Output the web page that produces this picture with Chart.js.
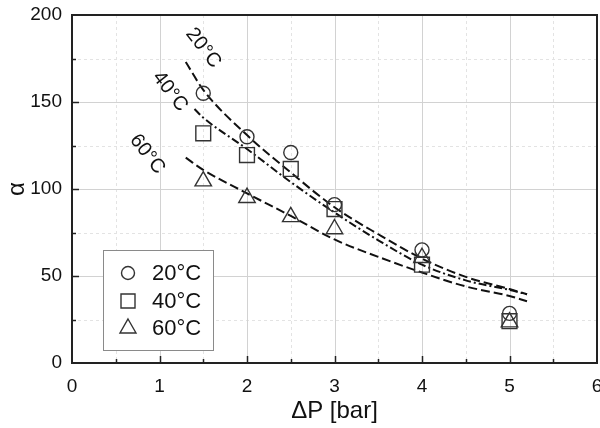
<!DOCTYPE html>
<html>
<head>
<meta charset="utf-8">
<script src="https://cdn.jsdelivr.net/npm/chart.js@4.4.1/dist/chart.umd.min.js"></script>
<style>
    html, body { margin: 0; padding: 0; background: #fff; }
    #wrap { width: 600px; height: 428px; position: relative; }
</style>
</head>
<body>
<div id="wrap"><canvas id="alphaChart"></canvas></div>
<script>
// measured points
const pressure = [1.5, 2, 2.5, 3, 4, 5];
const alpha20 = [155, 130, 121, 91, 65, 28.5];
const alpha40 = [132, 119.5, 111.5, 88.5, 56.5, 24];
const alpha60 = [104.5, 95, 84, 77, 60.5, 23.5];

// fitted curves
const fitPressure20 = [1.3, 1.5, 2, 2.5, 3, 3.5, 4, 4.5, 5, 5.2];
const fit20 = [173, 157, 131, 109.5, 89.5, 74, 60, 49.5, 42.5, 39.5];
const fitPressure40 = [1.4, 1.5, 2, 2.5, 3, 3.5, 4, 4.5, 5, 5.2];
const fit40 = [146, 141, 123, 104, 86.5, 70.5, 56.5, 47.5, 42, 39.5];
const fitPressure60 = [1.3, 1.5, 2, 2.5, 3, 3.5, 4, 4.5, 5, 5.2];
const fit60 = [118, 111, 97.5, 84.5, 71, 61, 52, 44, 38.5, 35.5];

const seriesLabels = ['20°C', '40°C', '60°C'];
const markerStyles = ['circle', 'rect', 'triangle'];
const markerRadius = [7, 10.5, 9.5];
// where the curve names sit (data coords)
const curveLabelX = [1.5, 1.12, 0.86];
const curveLabelY = [181, 156, 120];

const FONT = '"Liberation Sans", Arial, Helvetica, sans-serif';

const toXY = (xs, ys) => xs.map((x, i) => ({ x: x, y: ys[i] }));

document.addEventListener('DOMContentLoaded', function () {
    const canvas = document.getElementById('alphaChart');

    const gridAndTicks = {
        id: 'gridAndTicks',
        beforeDatasetsDraw(chart) {
            const { ctx, chartArea: a, scales: { x, y } } = chart;
            ctx.save();
            ctx.lineWidth = 1;
            // minor grid
            ctx.strokeStyle = '#e3e3e3';
            ctx.setLineDash([3, 3]);
            for (let v = 0.5; v < 6; v += 1) {
                const px = Math.round(x.getPixelForValue(v)) + 0.5;
                ctx.beginPath(); ctx.moveTo(px, a.top); ctx.lineTo(px, a.bottom); ctx.stroke();
            }
            for (let v = 25; v < 200; v += 50) {
                const py = Math.round(y.getPixelForValue(v)) + 0.5;
                ctx.beginPath(); ctx.moveTo(a.left, py); ctx.lineTo(a.right, py); ctx.stroke();
            }
            // major grid
            ctx.setLineDash([]);
            ctx.strokeStyle = '#d2d2d2';
            for (let v = 1; v < 6; v++) {
                const px = Math.round(x.getPixelForValue(v)) + 0.5;
                ctx.beginPath(); ctx.moveTo(px, a.top); ctx.lineTo(px, a.bottom); ctx.stroke();
            }
            for (let v = 50; v < 200; v += 50) {
                const py = Math.round(y.getPixelForValue(v)) + 0.5;
                ctx.beginPath(); ctx.moveTo(a.left, py); ctx.lineTo(a.right, py); ctx.stroke();
            }
            ctx.restore();
        },
        afterDatasetsDraw(chart) {
            const { ctx, chartArea: a, scales: { x, y } } = chart;
            ctx.save();
            // curve names
            ctx.fillStyle = '#111';
            ctx.font = '20px ' + FONT;
            ctx.textAlign = 'center';
            ctx.textBaseline = 'middle';
            seriesLabels.forEach((txt, i) => {
                ctx.save();
                ctx.translate(x.getPixelForValue(curveLabelX[i]), y.getPixelForValue(curveLabelY[i]));
                ctx.rotate(52 * Math.PI / 180);
                ctx.fillText(txt, 0, 0);
                ctx.restore();
            });

            // frame
            ctx.strokeStyle = '#222';
            ctx.lineWidth = 2;
            ctx.strokeRect(a.left, a.top, a.right - a.left, a.bottom - a.top);

            // inward ticks on bottom and left
            ctx.lineWidth = 1.5;
            for (let v = 0.5; v < 6; v += 0.5) {
                const px = Math.round(x.getPixelForValue(v)) + 0.5;
                const len = Number.isInteger(v) ? 7 : 4;
                ctx.beginPath(); ctx.moveTo(px, a.bottom); ctx.lineTo(px, a.bottom - len); ctx.stroke();
            }
            for (let v = 25; v < 200; v += 25) {
                const py = Math.round(y.getPixelForValue(v)) + 0.5;
                const len = v % 50 === 0 ? 7 : 4;
                ctx.beginPath(); ctx.moveTo(a.left, py); ctx.lineTo(a.left + len, py); ctx.stroke();
            }

            // legend box
            const bx = 103.5, by = 250.5, bw = 110, bh = 100;
            ctx.fillStyle = '#fff';
            ctx.fillRect(bx, by, bw, bh);
            ctx.strokeStyle = '#8a8a8a';
            ctx.lineWidth = 1;
            ctx.strokeRect(bx, by, bw, bh);
            const rows = [273, 301, 328];
            ctx.font = '22px ' + FONT;
            ctx.textAlign = 'left';
            ctx.textBaseline = 'middle';
            seriesLabels.forEach((txt, i) => {
                const mx = 128, my = rows[i];
                ctx.strokeStyle = '#333';
                ctx.lineWidth = 1.4;
                ctx.beginPath();
                if (markerStyles[i] === 'circle') {
                    ctx.arc(mx, my, 6.5, 0, Math.PI * 2);
                } else if (markerStyles[i] === 'rect') {
                    ctx.rect(mx - 7, my - 7, 14, 14);
                } else {
                    ctx.moveTo(mx, my - 9);
                    ctx.lineTo(mx + 8, my + 5);
                    ctx.lineTo(mx - 8, my + 5);
                    ctx.closePath();
                }
                ctx.stroke();
                ctx.fillStyle = '#111';
                ctx.fillText(txt, 152, my + 1);
            });
            ctx.restore();
        }
    };

    const pointSet = (label, xs, ys, style, radius) => ({
        label: label,
        data: toXY(xs, ys),
        showLine: false,
        pointStyle: style,
        pointRadius: radius,
        pointHoverRadius: radius,
        pointBackgroundColor: 'rgba(255,255,255,0)',
        pointBorderColor: '#333',
        pointBorderWidth: 1.4,
        order: 0,
    });

    const curveSet = (label, xs, ys, dash) => ({
        label: label,
        data: toXY(xs, ys),
        showLine: true,
        borderColor: '#111',
        borderWidth: 2,
        borderDash: dash,
        pointRadius: 0,
        cubicInterpolationMode: 'monotone',
        fill: false,
        order: 1,
    });

    new Chart(canvas, {
        type: 'scatter',
        data: {
            datasets: [
                curveSet('fit 20°C', fitPressure20, fit20, [9, 4]),
                curveSet('fit 40°C', fitPressure40, fit40, [8, 3, 2, 3]),
                curveSet('fit 60°C', fitPressure60, fit60, [9, 4]),
                pointSet(seriesLabels[0], pressure, alpha20, markerStyles[0], markerRadius[0]),
                pointSet(seriesLabels[1], pressure, alpha40, markerStyles[1], markerRadius[1]),
                pointSet(seriesLabels[2], pressure, alpha60, markerStyles[2], markerRadius[2]),
            ],
        },
        options: {
            responsive: true,
            maintainAspectRatio: false,
            animation: false,
            layout: { autoPadding: false, padding: { top: 15, right: 3, left: 0, bottom: 0 } },
            plugins: {
                legend: { display: false },
                tooltip: { enabled: false },
            },
            scales: {
                x: {
                    type: 'linear',
                    min: 0,
                    max: 6,
                    grid: { display: false, drawTicks: false },
                    border: { display: false },
                    ticks: {
                        stepSize: 1,
                        padding: 12,
                        color: '#111',
                        font: { family: FONT, size: 19 },
                    },
                    title: {
                        display: true,
                        text: 'ΔP [bar]',
                        color: '#111',
                        font: { family: FONT, size: 24 },
                        padding: { top: 0, bottom: 2 },
                    },
                    afterFit(scale) {
                        scale.height = 65;
                        scale.paddingLeft = 0;
                        scale.paddingRight = 0;
                    },
                },
                y: {
                    type: 'linear',
                    min: 0,
                    max: 200,
                    grid: { display: false, drawTicks: false },
                    border: { display: false },
                    ticks: {
                        stepSize: 50,
                        padding: 10,
                        color: '#111',
                        font: { family: FONT, size: 19 },
                    },
                    title: {
                        display: true,
                        text: 'α',
                        color: '#111',
                        font: { family: FONT, size: 24 },
                        padding: { top: 3, bottom: 0 },
                    },
                    afterFit(scale) {
                        scale.width = 72;
                        scale.paddingTop = 0;
                        scale.paddingBottom = 0;
                    },
                },
            },
        },
        plugins: [gridAndTicks],
    });
});
</script>
</body>
</html>
